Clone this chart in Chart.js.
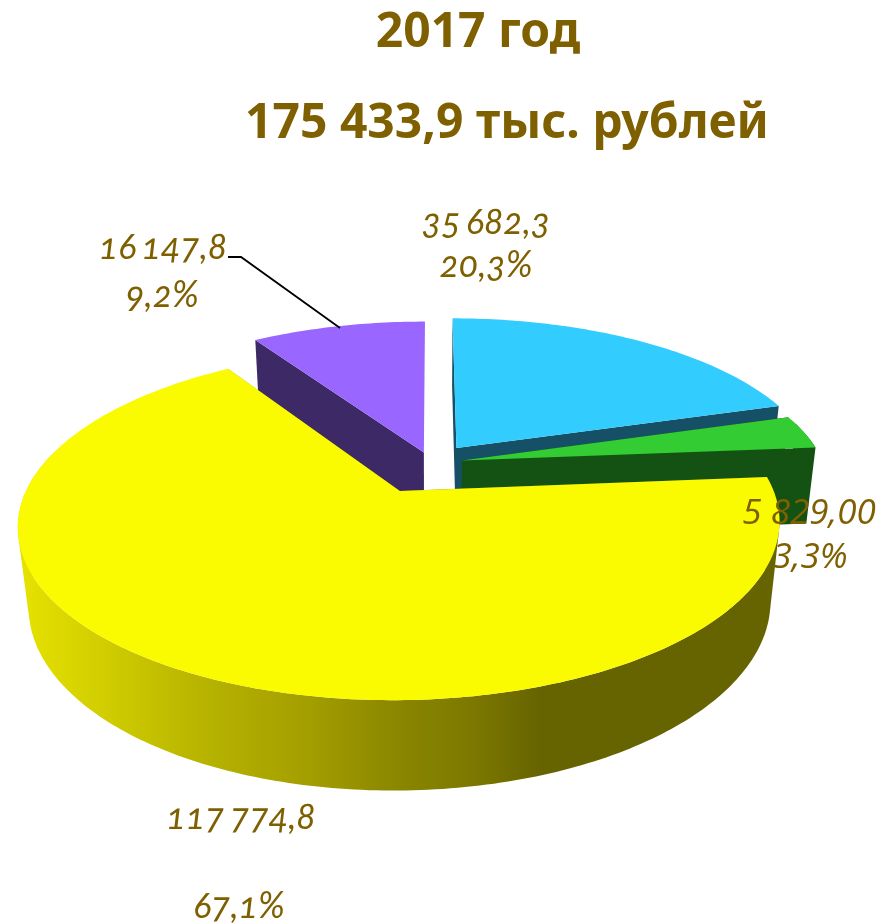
<!DOCTYPE html>
<html><head><meta charset="utf-8">
<style>
html,body{margin:0;padding:0;background:#fff;width:882px;height:924px;overflow:hidden}
#wrap{position:relative;width:882px;height:924px}
canvas{position:absolute;left:0;top:0}
.lb{position:absolute;transform:translate(-50%,-50%);white-space:nowrap;color:#7F6000;font:italic 36px Lato,"Open Sans",sans-serif;word-spacing:-3px;font-feature-settings:"onum" 1,"lnum" 0}
.ln{font-feature-settings:"lnum" 1,"onum" 0;font-family:"Open Sans",sans-serif;font-size:35px;word-spacing:0}
</style>
<script src="https://cdn.jsdelivr.net/npm/chart.js@4"></script>
</head><body><div id="wrap"><canvas id="c" width="882" height="924"></canvas>
<div class="lb" style="left:163px;top:245px">16 147,8</div>
<div class="lb" style="left:162px;top:293px">9,2%</div>
<div class="lb" style="left:486px;top:220px">35 682,3</div>
<div class="lb" style="left:486px;top:263px">20,3%</div>
<div class="lb ln" style="left:809px;top:510px">5 829,00</div>
<div class="lb ln" style="left:810px;top:554px">3,3%</div>
<div class="lb" style="left:241px;top:815px">117 774,8</div>
<div class="lb" style="left:239px;top:904px">67,1%</div>
</div>
<script>
const categories=["Категория 1","Категория 2","Категория 3","Категория 4"];
const values=[35682.3,5829.0,117774.8,16147.8];
const explode=[12,8.7,19,7];
const topColors=["#33CCFF","#33CC33","#FAFA00","#9966FF"];
const wallColors=["#155066","#145214",null,"#3D2966"];
const titleLines=["2017 год","175 433,9 тыс. рублей"];
const paintOrder=[3,0,1,2];

const F=362,S=158.7,K=0.185,H=79,M=0.025;
function project(o,u,v,z){const w=1-K*v+M*z;return [o.x+F*u/w,o.y+(S*v+H*z)/w];}
function pie3d(chart){
  const ctx=chart.ctx,meta=chart.getDatasetMeta(0);
  const wallGrad=ctx.createLinearGradient(20,0,770,0);
  [[0,"#E6E200"],[0.107,"#D2CE00"],[0.24,"#B8B400"],[0.373,"#A5A000"],[0.507,"#8A8600"],[0.6,"#7D7900"],[0.693,"#666400"],[1,"#666400"]].forEach(s=>wallGrad.addColorStop(s[0],s[1]));
  paintOrder.forEach(i=>{
    const el=meta.data[i],p=el.getProps(["startAngle","endAngle","x","y"],true);
    const o={x:p.x,y:p.y},mid=(p.startAngle+p.endAngle)/2,d=el.options.offset/100;
    const du=Math.cos(mid)*d,dv=Math.sin(mid)*d;
    const n=Math.max(8,Math.ceil((p.endAngle-p.startAngle)*60));
    const ang=j=>p.startAngle+(p.endAngle-p.startAngle)*j/n;
    const rim=z=>{const r=[];for(let j=0;j<=n;j++){const a=ang(j);r.push(project(o,Math.cos(a)+du,Math.sin(a)+dv,z));}return r;};
    const top=rim(0),bot=rim(1),a0=project(o,du,dv,0),a1=project(o,du,dv,1);
    const addPoly=pts=>{
      let area=0;pts.forEach((q,k)=>{const r=pts[(k+1)%pts.length];area+=q[0]*r[1]-r[0]*q[1];});
      const seq=area<0?pts.slice().reverse():pts;
      seq.forEach((q,k)=>k?ctx.lineTo(q[0],q[1]):ctx.moveTo(q[0],q[1]));ctx.closePath();
    };
    ctx.fillStyle=wallColors[i]||wallGrad;
    ctx.beginPath();
    addPoly([a0,top[0],bot[0],a1]);
    if(Math.abs(du)>0.03)addPoly([a0,top[n],bot[n],a1]);
    for(let j=0;j<n;j++){if(Math.sin(ang(j+0.5))>-0.25)addPoly([top[j],top[j+1],bot[j+1],bot[j]]);}
    ctx.fill("nonzero");
    ctx.fillStyle=topColors[i];
    ctx.beginPath();addPoly([a0].concat(top));ctx.fill();
  });
  ctx.strokeStyle="#000";ctx.lineWidth=1.8;ctx.beginPath();ctx.moveTo(228,257);ctx.lineTo(241,257);ctx.lineTo(340,328);ctx.stroke();
  return false;
}
const plugin={id:"pie3d",
  beforeDatasetsDraw(chart){return pie3d(chart);},
  afterDraw(chart){
    const ctx=chart.ctx;ctx.save();ctx.fillStyle="#7F6000";ctx.textAlign="center";ctx.textBaseline="middle";
    ctx.font='bold 48px "Noto Sans",sans-serif';
    ctx.fillText(titleLines[0],478,33);
    ctx.fillText(titleLines[1],507,124);
    ctx.restore();
  }};
new Chart(document.getElementById("c"),{
  type:"pie",
  data:{labels:categories,datasets:[{data:values,backgroundColor:topColors,offset:explode,borderWidth:0}]},
  options:{responsive:false,animation:false,layout:{padding:{left:0,right:20,top:2,bottom:0}},
    plugins:{legend:{display:false},title:{display:false},tooltip:{enabled:false}}},
  plugins:[plugin]
});
</script></body></html>
